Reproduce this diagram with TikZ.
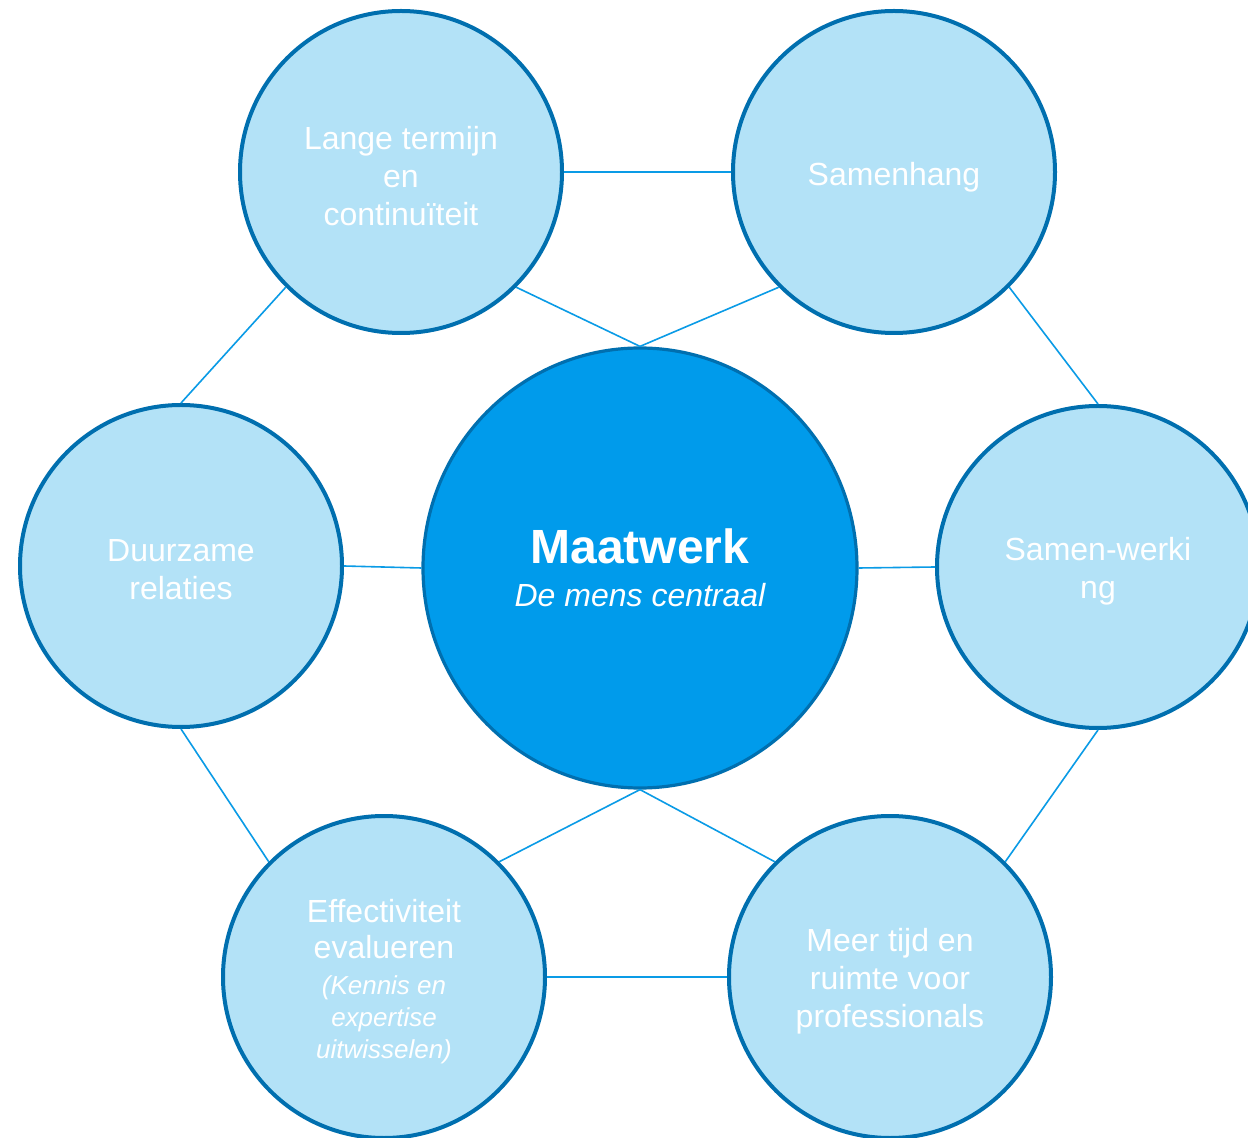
\documentclass[tikz,border=0pt]{standalone}
\usepackage{fontspec}
\setmainfont{Liberation Sans}
\usetikzlibrary{shapes.geometric}
\definecolor{ringblue}{HTML}{006FAF}
\definecolor{lightfill}{HTML}{B3E2F7}
\definecolor{centerfill}{HTML}{009BEB}
\definecolor{linkblue}{HTML}{0A9BE6}
\tikzset{
  topic/.style={circle, draw=ringblue, line width=2pt, fill=lightfill,
    minimum size=161pt, inner sep=0pt},
  topictext/.style={text=white, align=center, inner sep=0pt, yshift=-2pt,
    font=\fontsize{16}{19}\selectfont},
  hub/.style={ellipse, draw=ringblue, line width=1.6pt, fill=centerfill,
    minimum width=217pt, minimum height=220pt, inner sep=0pt, text=white,
    align=center, font=\fontsize{16}{19}\selectfont},
  link/.style={draw=linkblue, line width=0.8pt}
}
\begin{document}
\begin{tikzpicture}[x=0.5pt,y=-0.5pt]
\fill[white] (0,0) rectangle (1248,1138);
\useasboundingbox (0,0) rectangle (1248,1138);
\clip (0,0) rectangle (1248,1138);

\node[hub, yshift=-0.5pt] (c) at (640,567) {{\fontsize{24}{28}\selectfont\bfseries Maatwerk}\\[2.5pt]{\itshape De mens centraal}};
\node[topic, label={[topictext]center:Lange termijn\\en\\continuïteit}] (lange) at (401,172) {};
\node[topic, label={[topictext, yshift=-0.5pt]center:Samenhang}] (samenhang) at (894,172) {};
\node[topic, label={[topictext]center:Duurzame\\relaties}] (duurzaam) at (181,566) {};
\node[topic, label={[topictext]center:Samen-werki\\ng}] (samenwerking) at (1098,567) {};
\node[topic, label={[topictext, yshift=-0.5pt]center:Effectiviteit\\[-1pt]evalueren\\[-1pt]{\fontsize{13}{16}\selectfont\itshape (Kennis en}\\[-3pt]{\fontsize{13}{16}\selectfont\itshape expertise}\\[-3pt]{\fontsize{13}{16}\selectfont\itshape uitwisselen)}}] (effect) at (384,977) {};
\node[topic, label={[topictext]center:Meer tijd en\\ruimte voor\\professionals}] (meer) at (890,977) {};

\draw[link] (lange.east) -- (samenhang.west);
\draw[link] (lange.south east) -- (c.north);
\draw[link] (samenhang.south west) -- (c.north);
\draw[link] (lange.south west) -- (duurzaam.north);
\draw[link] (samenhang.south east) -- (samenwerking.north);
\draw[link] (duurzaam.east) -- (c.west);
\draw[link] (c.east) -- (samenwerking.west);
\draw[link] (duurzaam.south) -- (effect.north west);
\draw[link] (samenwerking.south) -- (meer.north east);
\draw[link] (c.south) -- (effect.north east);
\draw[link] (c.south) -- (meer.north west);
\draw[link] (effect.east) -- (meer.west);
\end{tikzpicture}
\end{document}
